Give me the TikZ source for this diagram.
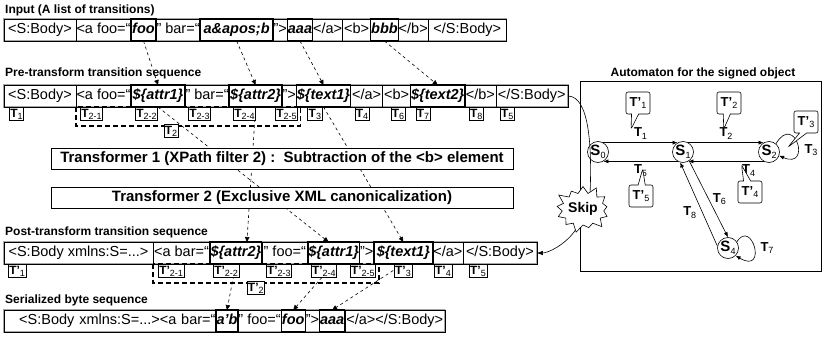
\documentclass[tikz,border=0pt]{standalone}
\usepackage{fontspec}
\setmainfont{Liberation Sans}
\usetikzlibrary{positioning,arrows.meta,shapes.symbols,shapes.callouts}
\pgfdeclarelayer{bg}
\pgfsetlayers{bg,main}
\newcommand{\tsb}[2][9]{\lower.35ex\hbox{\fontsize{#1}{#1}\selectfont\mdseries #2}}

\begin{document}
\begin{tikzpicture}[x=1pt, y=-1pt,
	cell/.style={draw, line width=0.5pt, inner xsep=0.5pt, inner ysep=0pt, outer sep=0pt, minimum height=22pt, text height=10.5pt, text depth=3pt, font=\fontsize{14.5}{14.5}\selectfont},
	hl/.style={cell, line width=1.4pt, font=\fontsize{14.5}{14.5}\selectfont\bfseries\itshape},
	hd/.style={anchor=west, inner sep=0pt, font=\fontsize{12}{12}\selectfont\bfseries},
	tl/.style={draw, fill=white, line width=0.5pt, inner sep=1pt, text height=9pt, text depth=2pt, font=\fontsize{12}{12}\selectfont\bfseries},
	tf/.style={draw, fill=white, line width=0.6pt, minimum width=462pt, minimum height=21pt, inner sep=0pt, font=\fontsize{15}{15}\selectfont\bfseries},
	flow/.style={dashed, line width=0.6pt, -{Triangle[length=5pt,width=4.5pt]}},
	grp/.style={line width=1.3pt, dash pattern=on 5pt off 3pt},
	rowframe/.style={draw=gray!70, line width=1.4pt},
	st/.style={circle, draw, line width=0.6pt, minimum size=21pt, inner sep=0pt, font=\fontsize{15}{15}\selectfont\bfseries},
	tr/.style={line width=0.6pt, -{Latex[length=5pt,width=4pt]}},
	al/.style={inner sep=1pt, font=\fontsize{13}{13}\selectfont\bfseries},
	co/.style={rectangle callout, draw, fill=white, line width=0.6pt, rounded corners=2pt, minimum width=24pt, minimum height=22pt, inner sep=1pt, font=\fontsize{13}{13}\selectfont\bfseries}
]
	\useasboundingbox (0,0) rectangle (823,340);

	% headings
	\node[hd] (hin) at (5,10) {Input (A list of transitions)};
	\node[hd] (hpre) at (5,73) {Pre-transform transition sequence};
	\node[hd] (hpost) at (5,232) {Post-transform transition sequence};
	\node[hd] (hser) at (5,300) {Serialized byte sequence};
	\node[hd, anchor=center] (haut) at (703,73) {Automaton for the signed object};

	% input row
	\coordinate (in0) at (4,30);
	\foreach \n/\w/\s/\txt [remember=\n as \p (initially in0)] in {in1/72/cell/{<S:Body>}, in2/52/cell/{<a foo=“}, in3/25/hl/{foo}, in4/42/cell/{” bar=“}, in5/73/hl/{a\&apos;b}, in6/13/cell/{”>}, in7/24/hl/{aaa}, in8/28/cell/{</a>}, in9/28/cell/{<b>}, in10/26/hl/{bbb}, in11/27/cell/{</b>}, in12/78/cell/{</S:Body>}}
		\node[\s, minimum width=\w pt, right=0pt of \p] (\n) {\txt};

	% pre-transform row
	\coordinate (pr0) at (4,96);
	\foreach \n/\w/\s/\txt [remember=\n as \p (initially pr0)] in {pr1/72/cell/{<S:Body>}, pr2/52/cell/{<a foo=“}, pr3/54/hl/{\$\{attr1\}}, pr4/42/cell/{” bar=“}, pr5/53/hl/{\$\{attr2\}}, pr6/14/cell/{”>}, pr7/52/hl/{\$\{text1\}}, pr8/32/cell/{</a>}, pr9/28/cell/{<b>}, pr10/54/hl/{\$\{text2\}}, pr11/31/cell/{</b>}, pr12/72/cell/{</S:Body>}}
		\node[\s, minimum width=\w pt, right=0pt of \p] (\n) {\txt};

	% post-transform row
	\coordinate (po0) at (4,253);
	\foreach \n/\w/\s/\txt [remember=\n as \p (initially po0)] in {po1/149/cell/{<S:Body xmlns:S=...>}, po2/57/cell/{<a bar=“}, po3/49/hl/{\$\{attr2\}}, po4/46/cell/{” foo=“}, po5/50/hl/{\$\{attr1\}}, po6/13/cell/{”>}, po7/59/hl/{\$\{text1\}}, po8/26/cell/{</a>}, po9/74/cell/{</S:Body>}}
		\node[\s, minimum width=\w pt, right=0pt of \p] (\n) {\txt};

	% serialized row
	\coordinate (se0) at (4,321);
	\node[cell, text width=211pt, align=right, right=0pt of se0] (se1) {<S:Body xmlns:S=...><a bar=“};
	\foreach \n/\w/\s/\txt [remember=\n as \p (initially se1)] in {se2/16/hl/{a’b}, se3/37/cell/{” foo=“}, se4/24/hl/{foo}, se5/14/cell/{”>}, se6/25/hl/{aaa}, se7/100/cell/{</a></S:Body>}}
		\node[\s, minimum width=\w pt, right=0pt of \p] (\n) {\txt};

	% groups of T2
	\draw[grp] (pr2.south west) rectangle ([xshift=4pt,yshift=-19pt]pr6.south east);
	\draw[grp] (po2.south west) rectangle ([xshift=5pt,yshift=-19pt]po6.south east);

	% transition labels
	\foreach \n/\c/\dx/\txt in {T1/pr1/5/{T\tsb{1}}, T2-1/pr2/4/{T\tsb{2-1}}, T2-2/pr3/4/{T\tsb{2-2}}, T2-3/pr4/3/{T\tsb{2-3}}, T2-4/pr5/4/{T\tsb{2-4}}, T2-5/pr5/46/{T\tsb{2-5}}, T3/pr7/11/{T\tsb{3}}, T4/pr8/4/{T\tsb{4}}, T6/pr9/8/{T\tsb{6}}, T7/pr10/5/{T\tsb{7}}, T8/pr11/4/{T\tsb{8}}, T5/pr12/4/{T\tsb{5}}}
		\node[tl, anchor=north west] (\n) at ([xshift=\dx pt]\c.south west) {\txt};
	\node[tl] (T2) at ([xshift=-14pt,yshift=-24pt]pr3.south east) {T\tsb{2}};

	\foreach \n/\c/\dx/\txt in {Tp1/po1/4/{T'\tsb{1}}, Tp2-1/po2/5/{T'\tsb{2-1}}, Tp2-2/po3/3/{T'\tsb{2-2}}, Tp2-3/po4/4/{T'\tsb{2-3}}, Tp2-4/po5/3/{T'\tsb{2-4}}, Tp2-5/po5/42/{T'\tsb{2-5}}, Tp3/po7/20/{T'\tsb{3}}, Tp4/po8/1/{T'\tsb{4}}, Tp5/po9/6/{T'\tsb{5}}}
		\node[tl, anchor=north west] (\n) at ([xshift=\dx pt]\c.south west) {\txt};
	\node[tl] (Tp2) at ([xshift=-6pt,yshift=-24pt]po3.south east) {T'\tsb{2}};

	% transformers
	\node[tf] (tf1) at (282,159) {Transformer 1 (XPath filter 2) :~~Subtraction of the <b> element};
	\node[tf] (tf2) at (282,197.5) {Transformer 2 (Exclusive XML canonicalization)};

	% automaton
	\draw[line width=0.6pt] (580,81) rectangle (821,271);
	\node[st] (S0) at (598,152) {S\tsb{0}};
	\node[st] (S1) at (683,152) {S\tsb{1}};
	\node[st] (S2) at (769,152) {S\tsb{2}};
	\node[st] (S4) at (728,248) {S\tsb{4}};
	\draw[tr] (S0.60) -- (S1.120) node[al, midway, above=2pt] (lT1) {T\tsb{1}};
	\draw[tr] (S1.60) -- (S2.120) node[al, midway, above=2pt] (lT2) {T\tsb{2}};
	\draw[tr] (S2.-120) -- (S1.-60) node[al, pos=0.2, below=2pt] (lT4) {T\tsb{4}};
	\draw[tr] (S1.-120) -- (S0.-60) node[al, midway, below=2pt] (lT5) {T\tsb{5}};
	\draw[tr] (S2.50) .. controls (795,112) and (812,170) .. (S2.-20);
	\node[al] (lT3) at (811,150) {T\tsb{3}};
	\draw[tr] (S1.-55) -- (S4.90) node[al, midway, right=3pt] (lT6) {T\tsb{6}};
	\draw[tr] (S4.170) -- (S1.-105) node[al, pos=0.4, left=5pt] (lT8) {T\tsb{8}};
	\draw[tr] (S4.35) .. controls (752,218) and (768,275) .. (S4.-45);
	\node[al] (lT7) at (767,248) {T\tsb{7}};

	\node[co, callout relative pointer={(-4pt,-15pt)}] (c1) at (638,103) {T'\tsb{1}};
	\node[co, callout relative pointer={(-3pt,-15pt)}] (c2) at (729,103) {T'\tsb{2}};
	\node[co, callout relative pointer={(-10pt,-14pt)}] (c3) at (806,122) {T'\tsb{3}};
	\node[co, callout relative pointer={(-5pt,16pt)}] (c4) at (750,192) {T'\tsb{4}};
	\node[co, callout relative pointer={(1pt,16pt)}] (c5) at (641,196) {T'\tsb{5}};

	\node[starburst, draw, fill=white, line width=0.6pt, starburst points=13, starburst point height=9pt, minimum width=57pt, minimum height=50pt, inner sep=0pt, font=\fontsize{14}{14}\selectfont\bfseries] (skip) at (583,209) {Skip};

	\begin{pgfonlayer}{bg}
		\draw[rowframe] (in1.north west) rectangle (in12.south east);
		\draw[rowframe] (pr1.north west) rectangle (pr12.south east);
		\draw[rowframe] (po1.north west) rectangle (po9.south east);
		\draw[rowframe] (se1.north west) rectangle (se7.south east);
		\draw[flow] (in3.south) -- (pr3.north);
		\draw[flow] (in5.south) -- (pr5.north);
		\draw[flow] (in7.south) -- (pr7.north);
		\draw[flow] (in10.south) -- (pr10.north);
		\draw[flow] (pr3.south) -- (po5.115);
		\draw[flow] (pr5.south) -- (po3.45);
		\draw[flow] (pr7.south) -- (po7.north);
		\draw[flow] (po3.south) -- (se2.north);
		\draw[flow] (po5.south) -- (se4.north);
		\draw[flow] (po7.south) -- (se6.north);
		\draw[line width=0.6pt] (pr12.east) .. controls (590,96) and (592,150) .. (590,195);
		\draw[line width=0.6pt, -{Latex[length=6pt,width=4.5pt]}] (skip.-110) .. controls (565,245) and (548,253) .. (po9.east);
	\end{pgfonlayer}
\end{tikzpicture}
\end{document}
